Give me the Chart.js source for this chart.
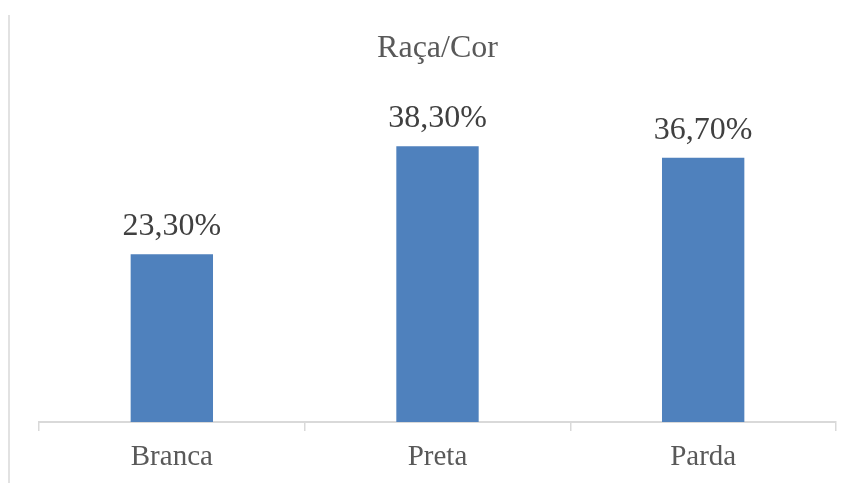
<!DOCTYPE html>
<html>
<head>
<meta charset="utf-8">
<script src="https://cdn.jsdelivr.net/npm/chart.js@4/dist/chart.umd.min.js"></script>
<style>
html,body{margin:0;padding:0;background:#fff;}
#wrap{width:853px;height:483px;position:relative;}
</style>
</head>
<body>
<div id="wrap"><canvas id="c" width="853" height="483"></canvas></div>
<script>
const categories = ["Branca", "Preta", "Parda"];
const values = [23.3, 38.3, 36.7];
const valueLabels = ["23,30%", "38,30%", "36,70%"];
const chartTitle = "Raça/Cor";

const serif = "'Liberation Serif', 'Times New Roman', serif";

const decor = {
  id: 'decor',
  beforeDraw(chart) {
    const ctx = chart.ctx;
    ctx.save();
    ctx.strokeStyle = '#D9D9D9';
    ctx.lineWidth = 1.5;
    ctx.beginPath();
    ctx.moveTo(9, 15);
    ctx.lineTo(9, 483);
    ctx.stroke();
    ctx.restore();
  },
  afterDatasetsDraw(chart) {
    const ctx = chart.ctx;
    const meta = chart.getDatasetMeta(0);
    ctx.save();
    ctx.font = "32px " + serif;
    ctx.fillStyle = '#404040';
    ctx.textAlign = 'center';
    ctx.textBaseline = 'alphabetic';
    meta.data.forEach((bar, i) => {
      ctx.fillText(valueLabels[i], bar.x, bar.y - 19);
    });
    ctx.restore();
  }
};

new Chart(document.getElementById('c'), {
  type: 'bar',
  data: {
    labels: categories,
    datasets: [{
      data: values,
      backgroundColor: '#4F81BD',
      borderWidth: 0,
      categoryPercentage: 1,
      barPercentage: 0.31
    }]
  },
  options: {
    responsive: false,
    animation: false,
    events: [],
    layout: { padding: { left: 39, right: 17, top: 0, bottom: 0 } },
    plugins: {
      legend: { display: false },
      tooltip: { enabled: false },
      title: {
        display: true,
        text: chartTitle,
        color: '#595959',
        font: { family: serif, size: 32, weight: 'normal' },
        padding: { top: 29, bottom: 66.6 }
      }
    },
    scales: {
      x: {
        grid: {
          display: true,
          drawOnChartArea: false,
          drawTicks: true,
          tickLength: 9,
          color: '#D9D9D9',
          lineWidth: 1.5
        },
        border: { display: true, color: '#D9D9D9', width: 2 },
        ticks: {
          color: '#595959',
          font: { family: serif, size: 29, lineHeight: 1.1 },
          padding: 10
        }
      },
      y: {
        display: false,
        min: 0,
        max: 40
      }
    }
  },
  plugins: [decor]
});
</script>
</body>
</html>
